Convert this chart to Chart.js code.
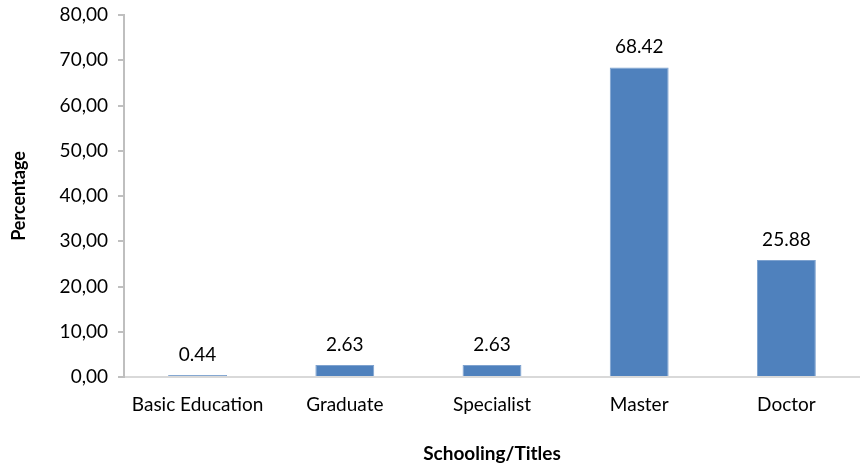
<!DOCTYPE html>
<html>
<head>
<meta charset="utf-8">
<script src="https://cdn.jsdelivr.net/npm/chart.js@4/dist/chart.umd.min.js"></script>
<style>
  html, body { margin: 0; padding: 0; background: #fff; }
  #wrap { width: 860px; height: 469px; }
</style>
</head>
<body>
<div id="wrap"><canvas id="schoolingChart"></canvas></div>
<script>
// Values
const categories = ['Basic Education', 'Graduate', 'Specialist', 'Master', 'Doctor'];
const percentages = [0.44, 2.63, 2.63, 68.42, 25.88];
const yTicks = [0, 10, 20, 30, 40, 50, 60, 70, 80];

const FONT = 'Lato, "Open Sans", sans-serif';

// draw the value above each bar
const valueLabels = {
    id: 'valueLabels',
    afterDatasetsDraw(chart) {
        const ctx = chart.ctx;
        const meta = chart.getDatasetMeta(0);
        ctx.save();
        ctx.font = '19px ' + FONT;
        ctx.fillStyle = '#000';
        ctx.textAlign = 'center';
        ctx.textBaseline = 'bottom';
        meta.data.forEach((bar, i) => {
            ctx.fillText(percentages[i].toFixed(2), bar.x, bar.y - 11);
        });
        ctx.restore();
    }
};

const ctx = document.getElementById('schoolingChart').getContext('2d');
const schoolingChart = new Chart(ctx, {
    type: 'bar',
    data: {
        labels: categories,
        datasets: [{
            label: 'Percentage',
            data: percentages,
            backgroundColor: '#4F81BD',
            borderColor: '#7EA2CF',
            borderWidth: 1,
            categoryPercentage: 0.4,
            barPercentage: 1
        }]
    },
    options: {
        responsive: true,
        maintainAspectRatio: false,
        animation: false,
        layout: { padding: { top: 15, right: 0, left: 0, bottom: 0 } },
        plugins: {
            legend: { display: false },
            tooltip: { enabled: false }
        },
        scales: {
            x: {
                grid: { display: false, drawTicks: false },
                border: { color: '#D9D9D9', width: 2 },
                ticks: { color: '#000', font: { family: FONT, size: 19 }, padding: 16 },
                title: {
                    display: true,
                    text: 'Schooling/Titles',
                    color: '#000',
                    font: { family: FONT, size: 19, weight: 'bold' },
                    padding: { top: 21 }
                },
                afterFit(scale) { scale.height = 92; }
            },
            y: {
                min: 0,
                max: 80,
                afterBuildTicks(scale) { scale.ticks = yTicks.map(v => ({ value: v })); },
                grid: { drawOnChartArea: false, color: '#BFBFBF', tickLength: 6, lineWidth: 2 },
                border: { color: '#BFBFBF', width: 2 },
                ticks: {
                    color: '#000',
                    font: { family: FONT, size: 19 },
                    padding: 10,
                    callback: v => v.toFixed(2).replace('.', ',')
                },
                title: {
                    display: true,
                    text: 'Percentage',
                    color: '#000',
                    font: { family: FONT, size: 18, weight: 'bold' },
                    padding: { bottom: 0, top: 8 }
                },
                afterFit(scale) {
                    scale.width = 124;
                    scale.paddingTop = 0;
                    scale.paddingBottom = 0;
                }
            }
        }
    },
    plugins: [valueLabels]
});
</script>
</body>
</html>
